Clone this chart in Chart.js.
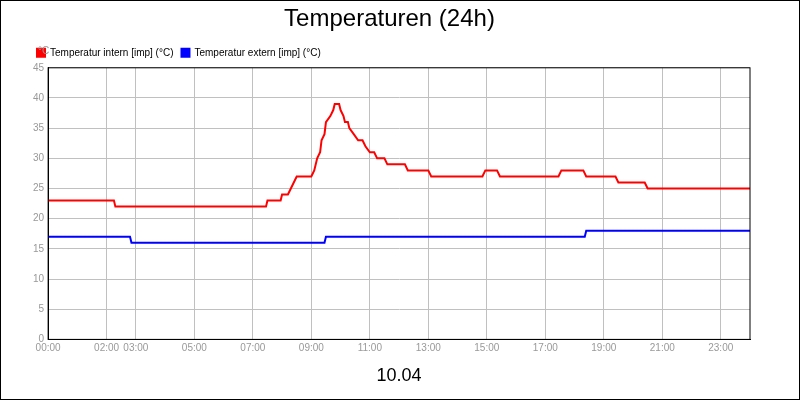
<!DOCTYPE html>
<html>
<head>
<meta charset="utf-8">
<script src="https://cdn.jsdelivr.net/npm/chart.js@4/dist/chart.umd.min.js"></script>
<style>
  body { margin: 0; background: #fff; }
  #wrap { width: 798px; height: 398px; border: 1px solid #000; }
</style>
</head>
<body>
<div id="wrap"><canvas id="tempChart" width="798" height="398"></canvas></div>
<script>
// Hours since 00:00 and readings (°C)
const internHours = [0, 2.25, 2.3, 7.45, 7.5, 7.95, 8.0, 8.2, 8.3, 8.4, 8.5, 9.0, 9.1, 9.2, 9.3, 9.35, 9.45, 9.5, 9.65, 9.75, 9.8, 9.95, 10.0, 10.1, 10.15, 10.25, 10.3, 10.45, 10.6, 10.75, 10.85, 11.0, 11.15, 11.25, 11.5, 11.6, 12.2, 12.3, 13.0, 13.1, 14.85, 14.95, 15.35, 15.45, 17.45, 17.55, 18.3, 18.4, 19.4, 19.5, 20.4, 20.5, 24];
const internTemps = [23, 23, 22, 22, 23, 23, 24, 24, 25, 26, 27, 27, 28, 30, 31, 33, 34, 36, 37, 38, 39, 39, 38, 37, 36, 36, 35, 34, 33, 33, 32, 31, 31, 30, 30, 29, 29, 28, 28, 27, 27, 28, 28, 27, 27, 28, 28, 27, 27, 26, 26, 25, 25];
const externHours = [0, 2.8, 2.85, 9.45, 9.5, 18.35, 18.4, 24];
const externTemps = [17, 17, 16, 16, 17, 17, 18, 18];
const tickHours = [0, 2, 3, 5, 7, 9, 11, 13, 15, 17, 19, 21, 23];
const dateLabel = "10.04";

const toPoints = (xs, ys) => xs.map((x, i) => ({ x: x, y: ys[i] }));

// Draw "°C" above the y axis and the frame around the plot
const unitPlugin = {
  id: "unit",
  afterDraw(chart) {
    const { ctx, chartArea } = chart;
    ctx.save();
    ctx.fillStyle = "#999";
    ctx.font = "10px 'Liberation Sans'";
    ctx.fillText("°C", 37, 50);
    ctx.strokeStyle = "#000";
    ctx.lineWidth = 1;
    ctx.strokeRect(chartArea.left, chartArea.top, chartArea.right - chartArea.left, chartArea.bottom - chartArea.top);
    ctx.restore();
  },
};

new Chart(document.getElementById("tempChart"), {
  type: "line",
  data: {
    datasets: [
      {
        label: "Temperatur intern [imp] (°C)",
        data: toPoints(internHours, internTemps),
        borderColor: "#ff0000",
        backgroundColor: "#ff0000",
        borderWidth: 2,
        pointRadius: 0,
      },
      {
        label: "Temperatur extern [imp] (°C)",
        data: toPoints(externHours, externTemps),
        borderColor: "#0000ff",
        backgroundColor: "#0000ff",
        borderWidth: 2,
        pointRadius: 0,
      },
    ],
  },
  options: {
    responsive: false,
    animation: false,
    layout: { padding: { left: 28, right: 49, top: 0, bottom: 8 } },
    plugins: {
      title: {
        display: true,
        text: "Temperaturen (24h)",
        color: "#000",
        font: { size: 24, family: "'Liberation Sans'", weight: "normal" },
        padding: { top: 4, bottom: 6 },
      },
      legend: {
        align: "start",
        labels: {
          boxWidth: 8,
          boxHeight: 8,
          color: "#000",
          font: { size: 10, family: "'Liberation Sans'" },
          padding: 8,
        },
      },
      tooltip: { enabled: false },
    },
    scales: {
      x: {
        type: "linear",
        min: 0,
        max: 24,
        afterBuildTicks: (axis) => { axis.ticks = tickHours.map((v) => ({ value: v })); },
        ticks: {
          autoSkip: false,
          maxRotation: 0,
          color: "#999",
          font: { size: 10, family: "'Liberation Sans'" },
          callback: (v) => String(v).padStart(2, "0") + ":00",
        },
        grid: { color: "#c0c0c0", drawTicks: false },
        border: { color: "#000" },
        title: {
          display: true,
          text: dateLabel,
          color: "#000",
          font: { size: 18, family: "'Liberation Sans'" },
          padding: { top: 8 },
        },
      },
      y: {
        min: 0,
        max: 45,
        ticks: {
          stepSize: 5,
          color: "#999",
          font: { size: 10, family: "'Liberation Sans'" },
          padding: 4,
        },
        grid: { color: "#c0c0c0", drawTicks: false },
        border: { color: "#000" },
      },
    },
  },
  plugins: [unitPlugin],
});
</script>
</body>
</html>
